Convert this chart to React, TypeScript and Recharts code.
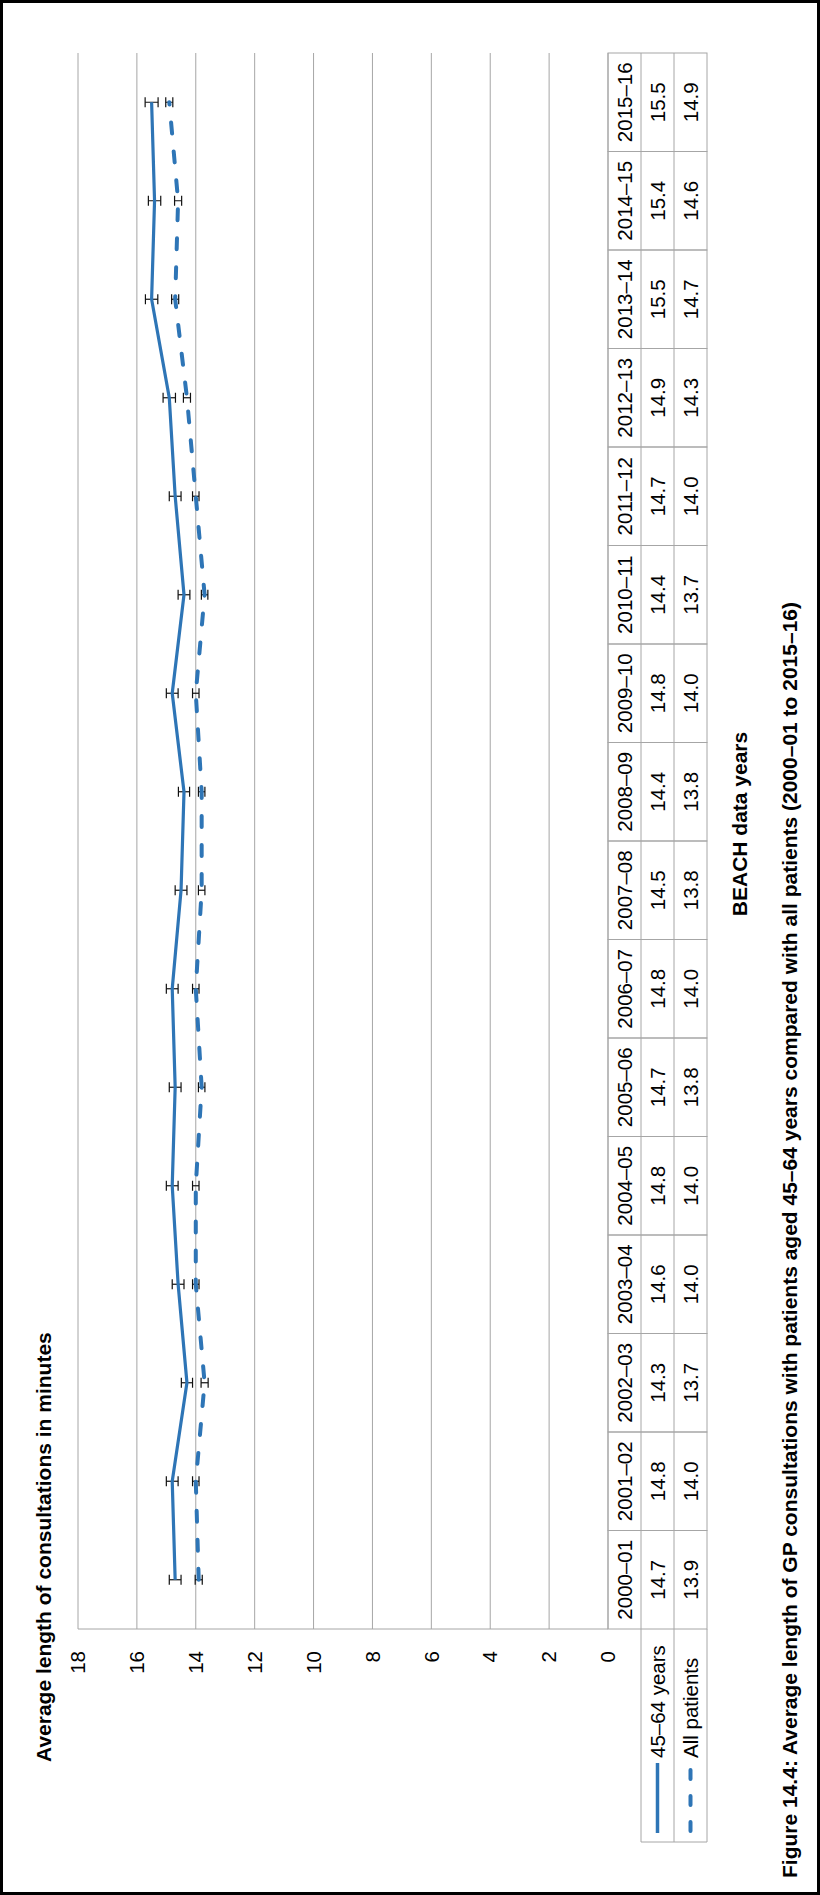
import React from "react";
import { ComposedChart, Line, XAxis, YAxis, CartesianGrid, ErrorBar } from "recharts";

// BEACH data years
const years = [
  "2000–01", "2001–02", "2002–03", "2003–04", "2004–05", "2005–06", "2006–07", "2007–08",
  "2008–09", "2009–10", "2010–11", "2011–12", "2012–13", "2013–14", "2014–15", "2015–16",
];
const aged45to64 = [14.7, 14.8, 14.3, 14.6, 14.8, 14.7, 14.8, 14.5, 14.4, 14.8, 14.4, 14.7, 14.9, 15.5, 15.4, 15.5];
const allPatients = [13.9, 14.0, 13.7, 14.0, 14.0, 13.8, 14.0, 13.8, 13.8, 14.0, 13.7, 14.0, 14.3, 14.7, 14.6, 14.9];
// 95% CI half widths
const err45to64 = [0.2, 0.2, 0.19, 0.2, 0.2, 0.2, 0.2, 0.2, 0.19, 0.2, 0.2, 0.2, 0.21, 0.21, 0.21, 0.22];
const errAll = [0.12, 0.11, 0.12, 0.11, 0.11, 0.11, 0.11, 0.11, 0.11, 0.11, 0.11, 0.11, 0.12, 0.12, 0.12, 0.12];
const yTicks = [0, 2, 4, 6, 8, 10, 12, 14, 16, 18];

const seriesNames = ["45–64 years", "All patients"];

const data = years.map((year, i) => ({
  year,
  a: aged45to64[i],
  ea: err45to64[i],
  b: allPatients[i],
  eb: errAll[i],
}));

// chart is drawn landscape, then turned to fit the portrait page
const W = 1895;
const H = 820;
const PLOT_LEFT = 266;
const PLOT_RIGHT = 1842;
const ROW = 33;
const COL = (PLOT_RIGHT - PLOT_LEFT) / years.length;

const BLUE = "#2E75B6";
const GRID = "#a6a6a6";
const FONT = "'Liberation Sans', Arial, sans-serif";
const DASH = "11 18";

function TableTick(props: any) {
  const { x, y, payload } = props;
  const i = years.indexOf(payload.value);
  const left = x - COL / 2;
  const txt = { fontSize: 20.5, fill: "#000", fontFamily: FONT };
  return (
    <g>
      <rect x={left} y={y} width={COL} height={ROW * 3} fill="none" stroke={GRID} />
      <line x1={left} x2={left + COL} y1={y + ROW} y2={y + ROW} stroke={GRID} />
      <line x1={left} x2={left + COL} y1={y + ROW * 2} y2={y + ROW * 2} stroke={GRID} />
      <text x={x} y={y + ROW / 2} textAnchor="middle" dominantBaseline="central" {...txt}>
        {years[i]}
      </text>
      <text x={x} y={y + ROW * 1.5} textAnchor="middle" dominantBaseline="central" {...txt}>
        {aged45to64[i].toFixed(1)}
      </text>
      <text x={x} y={y + ROW * 2.5} textAnchor="middle" dominantBaseline="central" {...txt}>
        {allPatients[i].toFixed(1)}
      </text>
    </g>
  );
}

export default function App() {
  return (
    <div
      style={{
        position: "absolute",
        left: 0,
        top: 0,
        width: H,
        height: W,
        border: "3px solid #000",
        boxSizing: "border-box",
        overflow: "hidden",
        background: "#fff",
      }}
    >
      <div
        style={{
          position: "absolute",
          left: -3,
          top: -3,
          width: W,
          height: H,
          transformOrigin: "0 0",
          transform: `translate(0px, ${W}px) rotate(-90deg)`,
          fontFamily: FONT,
        }}
      >
        <ComposedChart
          width={W}
          height={H}
          data={data}
          margin={{ top: 78, right: W - PLOT_RIGHT, bottom: 113, left: 0 }}
        >
          <CartesianGrid vertical={false} stroke={GRID} />
          <XAxis
            dataKey="year"
            scale="band"
            height={ROW * 3}
            interval={0}
            tickLine={false}
            axisLine={false}
            tickSize={0}
            tickMargin={0}
            tick={<TableTick />}
          />
          <YAxis
            domain={[0, 18]}
            ticks={yTicks}
            width={PLOT_LEFT}
            interval={0}
            tickLine={false}
            tickSize={0}
            tickMargin={22}
            axisLine={{ stroke: GRID }}
            tick={{ fontSize: 20.5, fill: "#000", fontFamily: FONT }}
          />
          <Line
            type="linear"
            dataKey="a"
            name={seriesNames[0]}
            stroke={BLUE}
            strokeWidth={3.2}
            dot={false}
            isAnimationActive={false}
          >
            <ErrorBar dataKey="ea" width={5} strokeWidth={1.2} stroke="#111" direction="y" isAnimationActive={false} />
          </Line>
          <Line
            type="linear"
            dataKey="b"
            name={seriesNames[1]}
            stroke={BLUE}
            strokeWidth={4}
            strokeDasharray={DASH}
            strokeLinecap="round"
            dot={false}
            isAnimationActive={false}
          >
            <ErrorBar dataKey="eb" width={5} strokeWidth={1.2} stroke="#111" direction="y" isAnimationActive={false} />
          </Line>
        </ComposedChart>

        <svg
          width={W}
          height={H}
          style={{ position: "absolute", left: 0, top: 0, pointerEvents: "none" }}
          fontFamily={FONT}
        >
          <text x={133} y={51} fontSize={21} fontWeight="bold" fill="#000">
            Average length of consultations in minutes
          </text>
          <text x={1071} y={747} fontSize={21} fontWeight="bold" fill="#000" textAnchor="middle">
            BEACH data years
          </text>
          <text x={17} y={797} fontSize={21} fontWeight="bold" fill="#000">
            Figure 14.4: Average length of GP consultations with patients aged 45–64 years compared with all
            patients (2000–01 to 2015–16)
          </text>

          {/* legend cells beside the data table */}
          <g stroke={GRID} fill="none">
            <line x1={53} x2={PLOT_LEFT} y1={641} y2={641} />
            <line x1={53} x2={PLOT_LEFT} y1={641 + ROW} y2={641 + ROW} />
            <line x1={53} x2={PLOT_LEFT} y1={641 + ROW * 2} y2={641 + ROW * 2} />
            <line x1={53} x2={53} y1={641} y2={641 + ROW * 2} />
          </g>
          <line x1={62} x2={132} y1={641 + ROW / 2} y2={641 + ROW / 2} stroke={BLUE} strokeWidth={3.5} />
          <line
            x1={64}
            x2={132}
            y1={641 + ROW * 1.5}
            y2={641 + ROW * 1.5}
            stroke={BLUE}
            strokeWidth={4}
            strokeDasharray="9 17"
            strokeLinecap="round"
          />
          <text x={137} y={641 + ROW / 2} dominantBaseline="central" fontSize={20.5} fill="#000">
            {seriesNames[0]}
          </text>
          <text x={137} y={641 + ROW * 1.5} dominantBaseline="central" fontSize={20.5} fill="#000">
            {seriesNames[1]}
          </text>
        </svg>
      </div>
    </div>
  );
}
